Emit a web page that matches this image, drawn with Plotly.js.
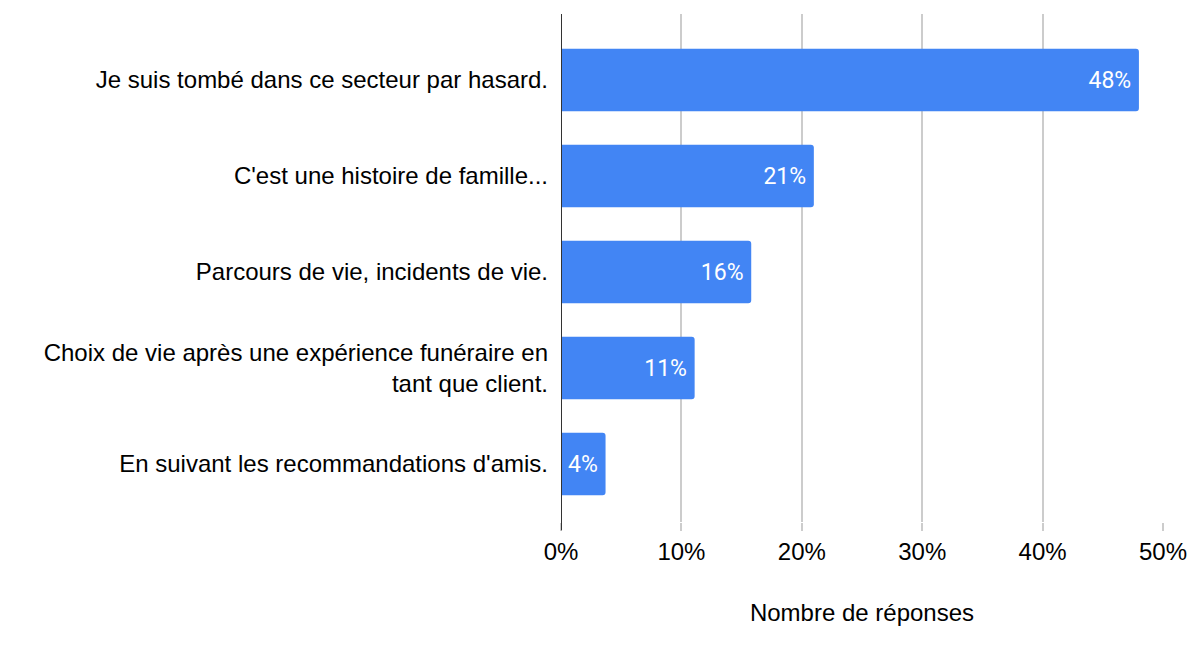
<!DOCTYPE html>
<html>
<head>
<meta charset="utf-8">
<script src="https://cdn.plot.ly/plotly-3.0.1.min.js"></script>
<style>body{margin:0;background:#fff}#chart{width:1200px;height:650px}</style>
</head>
<body>
<div id="chart"></div>
<script>
const categories = [
  "Je suis tombé dans ce secteur par hasard.",
  "C'est une histoire de famille...",
  "Parcours de vie, incidents de vie.",
  "Choix de vie après une expérience funéraire en<br>tant que client.",
  "En suivant les recommandations d'amis."
];
const values = [0.48, 0.21, 0.158, 0.111, 0.037];
const xTickVals = [0, 0.1, 0.2, 0.3, 0.4, 0.5];
const xTickText = ["0%", "10%", "20%", "30%", "40%", "50%"];

const trace = {
  type: 'bar',
  orientation: 'h',
  y: categories,
  x: values,
  marker: {color: '#4285F4', cornerradius: 3},
  texttemplate: '%{x:.0%}\u2009',
  textposition: 'inside',
  insidetextanchor: 'end',
  textangle: 0,
  constraintext: 'none',
  textfont: {family: 'Roboto', size: 23, color: '#ffffff'},
  hoverinfo: 'none'
};

const layout = {
  width: 1200, height: 650,
  margin: {l: 561, r: 37, t: 14, b: 128},
  paper_bgcolor: '#fff', plot_bgcolor: '#fff',
  bargap: 0.35,
  showlegend: false,
  font: {family: 'Liberation Sans, Arial, sans-serif', size: 24, color: '#000'},
  xaxis: {
    range: [0, 0.5],
    tickvals: xTickVals, ticktext: xTickText,
    showgrid: true, gridcolor: '#cccccc', gridwidth: 2,
    ticks: 'outside', ticklen: 8, tickcolor: '#cccccc', tickwidth: 2,
    zeroline: false, showline: false,
    tickfont: {family: 'Liberation Sans, Arial, sans-serif', size: 24, color: '#000'},
    title: {text: 'Nombre de réponses', standoff: 40,
            font: {family: 'Liberation Sans, Arial, sans-serif', size: 24, color: '#000'}},
    fixedrange: true
  },
  yaxis: {
    type: 'category',
    range: [4.604, -0.6875],
    showgrid: false, zeroline: false,
    showline: false,
    ticks: '', ticklabelstandoff: 12,
    tickfont: {family: 'Liberation Sans, Arial, sans-serif', size: 24, color: '#000'},
    fixedrange: true
  },
  shapes: [{
    type: 'line', xref: 'x', yref: 'paper',
    x0: 0, x1: 0, y0: -0.016, y1: 1,
    line: {color: '#333333', width: 2}
  }]
};

Plotly.newPlot('chart', [trace], layout, {displayModeBar: false, staticPlot: true});
</script>
</body>
</html>
